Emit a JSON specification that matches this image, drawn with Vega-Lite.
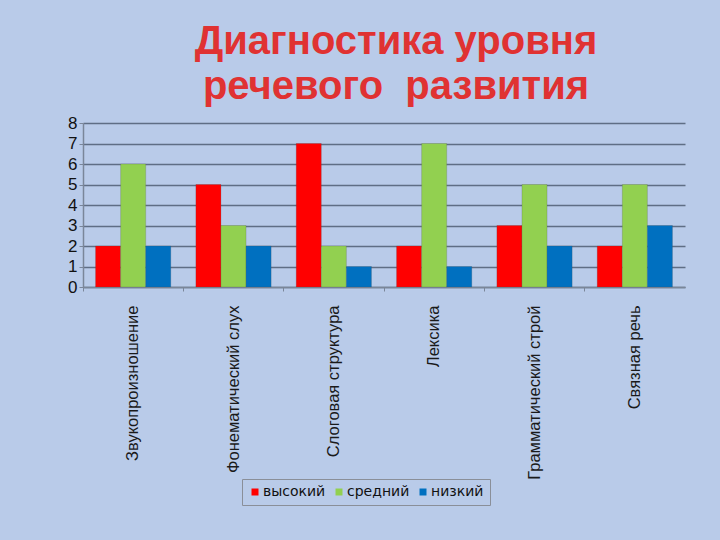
{
  "$schema": "https://vega.github.io/schema/vega-lite/v6.json",
  "autosize": {"type": "none"},
  "width": 602,
  "height": 164,
  "padding": {"left": 83, "top": 123, "right": 35, "bottom": 253},
  "background": "#b9cbe9",
  "title": {
    "text": ["Диагностика уровня", "речевого\u00a0 развития"],
    "font": "Liberation Sans",
    "fontSize": 40,
    "fontWeight": "bold",
    "color": "#e03232",
    "anchor": "middle",
    "frame": "group",
    "dx": 12,
    "offset": 7,
    "lineHeight": 45
  },
  "data": {
    "values": [
      {"cat": "Звукопроизношение", "level": "высокий", "v": 2},
      {"cat": "Звукопроизношение", "level": "средний", "v": 6},
      {"cat": "Звукопроизношение", "level": "низкий", "v": 2},
      {"cat": "Фонематический слух", "level": "высокий", "v": 5},
      {"cat": "Фонематический слух", "level": "средний", "v": 3},
      {"cat": "Фонематический слух", "level": "низкий", "v": 2},
      {"cat": "Слоговая структура", "level": "высокий", "v": 7},
      {"cat": "Слоговая структура", "level": "средний", "v": 2},
      {"cat": "Слоговая структура", "level": "низкий", "v": 1},
      {"cat": "Лексика", "level": "высокий", "v": 2},
      {"cat": "Лексика", "level": "средний", "v": 7},
      {"cat": "Лексика", "level": "низкий", "v": 1},
      {"cat": "Грамматический строй", "level": "высокий", "v": 3},
      {"cat": "Грамматический строй", "level": "средний", "v": 5},
      {"cat": "Грамматический строй", "level": "низкий", "v": 2},
      {"cat": "Связная речь", "level": "высокий", "v": 2},
      {"cat": "Связная речь", "level": "средний", "v": 5},
      {"cat": "Связная речь", "level": "низкий", "v": 3}
    ]
  },
  "mark": {"type": "bar", "stroke": "#444", "strokeWidth": 0.5, "strokeOpacity": 0.4},
  "encoding": {
    "x": {
      "field": "cat",
      "type": "nominal",
      "sort": null,
      "scale": {"paddingInner": 0, "paddingOuter": 0},
      "axis": {
        "title": null,
        "labelAngle": 270,
        "labelFont": "Liberation Sans",
        "labelFontSize": 16.5,
        "labelColor": "#1a1a1a",
        "labelPadding": 14,
        "labelLimit": 300,
        "bandPosition": 0,
        "tickSize": 4,
        "tickColor": "#7a8699",
        "domainColor": "#7a8699",
        "domainWidth": 1.5,
        "grid": false
      }
    },
    "xOffset": {
      "field": "level",
      "type": "nominal",
      "sort": ["высокий", "средний", "низкий"],
      "scale": {"paddingInner": 0, "paddingOuter": 0.5}
    },
    "y": {
      "field": "v",
      "type": "quantitative",
      "scale": {"domain": [0, 8]},
      "axis": {
        "title": null,
        "values": [0, 1, 2, 3, 4, 5, 6, 7, 8],
        "labelOverlap": false,
        "labelFont": "Liberation Sans",
        "labelFontSize": 17,
        "labelColor": "#111",
        "labelPadding": 2,
        "tickSize": 4,
        "tickColor": "#7a8699",
        "domainColor": "#7a8699",
        "domainWidth": 1.5,
        "grid": true,
        "gridColor": "#5f6e85",
        "gridWidth": 1.6
      }
    },
    "color": {
      "field": "level",
      "type": "nominal",
      "sort": ["высокий", "средний", "низкий"],
      "scale": {"domain": ["высокий", "средний", "низкий"], "range": ["#ff0000", "#92d050", "#0070c0"]},
      "legend": {
        "title": null,
        "orient": "none",
        "legendX": 159,
        "legendY": 356,
        "direction": "horizontal",
        "symbolType": "square",
        "symbolSize": 49,
        "symbolStrokeWidth": 0,
        "labelFont": "DejaVu Sans",
        "labelFontSize": 14,
        "labelColor": "#111",
        "labelOffset": 1,
        "columnPadding": 6,
        "padding": 6,
        "strokeColor": "#8a8f99",
        "cornerRadius": 0
      }
    }
  },
  "config": {
    "view": {"stroke": null}
  }
}
